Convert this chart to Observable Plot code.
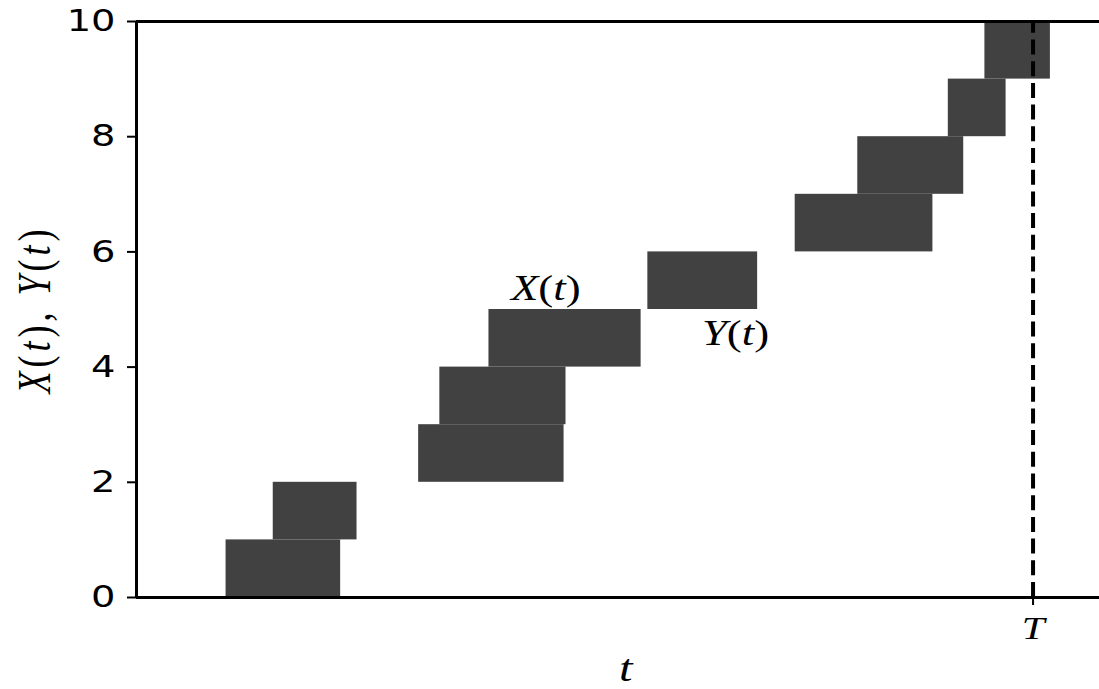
<!DOCTYPE html>
<html>
<head>
<meta charset="utf-8">
<script src="https://cdn.jsdelivr.net/npm/d3@7"></script>
<script src="https://cdn.jsdelivr.net/npm/@observablehq/plot@0.6"></script>
<style>
  html, body { margin: 0; padding: 0; background: #fff; }
  svg { display: block; }
</style>
</head>
<body>
<div id="chart"></div>
<script>
// ---- data ----
const levels = [0, 1, 2, 3, 4, 5, 6, 7, 8, 9];
const tStart = [0.93, 1.42, 2.93, 3.15, 3.66, 5.31, 6.84, 7.49, 8.43, 8.81];
const tEnd   = [2.12, 2.29, 4.44, 4.46, 5.24, 6.45, 8.27, 8.59, 9.03, 9.49];
const T = 9.31;
const yTicks = [0, 2, 4, 6, 8, 10];
const annotations = [
  {label: "X(t)", t: 4.25, v: 5.36},
  {label: "Y(t)", t: 6.22, v: 4.575}
];

const rows = levels.map((lv, i) => ({lo: lv, hi: lv + 1, t1: tStart[i], t2: tEnd[i]}));

const serif = "'Liberation Serif', 'DejaVu Serif', serif";
const STRETCH = 1.28; // glyphs in the original are horizontally widened

const svg = Plot.plot({
  width: 1099,
  height: 689,
  marginLeft: 136,
  marginRight: 0,
  marginTop: 21,
  marginBottom: 92,
  style: {fontFamily: "'DejaVu Sans', sans-serif", color: "#000", background: "#fff"},
  x: {domain: [0, 10], axis: null},
  y: {domain: [0, 10], axis: null},
  marks: [
    Plot.rect(rows, {x1: "t1", x2: "t2", y1: "lo", y2: "hi", fill: "#414141"}),
    Plot.ruleX([T], {y1: 0, y2: 10, stroke: "#000", strokeWidth: 4, strokeDasharray: "15,6.7"}),
    Plot.ruleY([0, 10], {stroke: "#000", strokeWidth: 3}),
    Plot.ruleX([0], {stroke: "#000", strokeWidth: 3}),
    Plot.axisY({ticks: yTicks, tickSize: 9, tickPadding: 12, fontSize: 30, strokeWidth: 2, label: null, tickFormat: d => String(d)}),
    Plot.axisX({ticks: [T], tickSize: 8, tickPadding: 11, fontSize: 32, strokeWidth: 2, label: null,
      tickFormat: () => "T", fontFamily: serif, fontStyle: "italic"}),
    Plot.text(annotations, {x: "t", y: "v", text: "label", fontSize: 35, fontFamily: serif, fill: "#000"}),
    Plot.text(["t"], {frameAnchor: "bottom", x: 5.08, dy: 71, lineAnchor: "middle", fontSize: 38, fontFamily: serif, fontStyle: "italic", fill: "#000"}),
    Plot.text(["X(t), Y(t)"], {frameAnchor: "left", y: 5, dx: -101, rotate: -90, textAnchor: "middle", lineAnchor: "middle", fontSize: 36, fontFamily: serif, fill: "#000"})
  ]
});

document.getElementById("chart").appendChild(svg);

// Render math-like labels: letters italic, punctuation upright
function mathify(el, spacing) {
  const s = el.textContent;
  el.textContent = "";
  if (spacing) el.style.letterSpacing = spacing;
  for (const ch of s) {
    const ts = document.createElementNS("http://www.w3.org/2000/svg", "tspan");
    ts.textContent = ch;
    ts.setAttribute("font-style", /[A-Za-z]/.test(ch) ? "italic" : "normal");
    el.appendChild(ts);
  }
}
d3.select(svg).selectAll("text").each(function() {
  const s = this.textContent;
  if (s === "X(t)" || s === "Y(t)") mathify(this, null);
  else if (s === "X(t), Y(t)") mathify(this, "4px");
  // widen glyphs horizontally around their anchor point
  const t = this.getAttribute("transform");
  if (t && /translate\(/.test(t)) {
    this.setAttribute("transform", t.replace(/(translate\([^)]*\))/, `$1 scale(${STRETCH},1)`));
  } else {
    const x = +(this.getAttribute("x") || 0), y = +(this.getAttribute("y") || 0);
    this.removeAttribute("x"); this.removeAttribute("y");
    this.setAttribute("transform", `translate(${x},${y}) scale(${STRETCH},1)` + (t ? " " + t : ""));
  }
});
</script>
</body>
</html>
